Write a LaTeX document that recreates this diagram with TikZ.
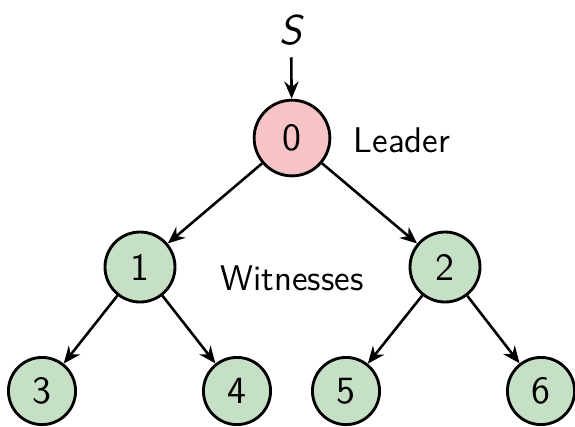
\documentclass[tikz,border=0pt]{standalone}
\usetikzlibrary{arrows.meta}
\definecolor{leaderfill}{RGB}{246,196,198}
\definecolor{witnessfill}{RGB}{198,224,198}
\begin{document}
\begin{tikzpicture}[x=0.35pt,y=-0.35pt,
  font=\sffamily\fontsize{12.5}{14}\selectfont,
  vertex/.style={circle,draw=black,line width=1pt,inner sep=0pt,font=\sffamily\fontsize{13.5}{15}\selectfont},
  leadernode/.style={vertex,fill=leaderfill,minimum size=26.5pt},
  midnode/.style={vertex,fill=witnessfill,minimum size=24.5pt},
  leafnode/.style={vertex,fill=witnessfill,minimum size=23.5pt},
  link/.style={line width=0.9pt,-{Stealth[length=6pt,width=5pt]}}]
\useasboundingbox (0,0) rectangle (575,426);
% source and tree nodes
\node[inner sep=4pt,font=\sffamily\slshape\fontsize{14.5}{16}\selectfont] (S) at (291,30) {S};
\node[leadernode] (n0) at (292,138) {0};
\node[midnode] (n1) at (140,267) {1};
\node[midnode] (n2) at (445,267) {2};
\node[leafnode] (n3) at (42,391) {3};
\node[leafnode] (n4) at (237,391) {4};
\node[leafnode] (n5) at (346,391) {5};
\node[leafnode] (n6) at (541,391) {6};
% role labels
\node (leader) at (402,140) {Leader};
\node (wit) at (292,278) {Witnesses};
% connectors
\draw[link] (S) -- (n0);
\draw[link] (n0) -- (n1);
\draw[link] (n0) -- (n2);
\draw[link] (n1) -- (n3);
\draw[link] (n1) -- (n4);
\draw[link] (n2) -- (n5);
\draw[link] (n2) -- (n6);
\end{tikzpicture}
\end{document}
